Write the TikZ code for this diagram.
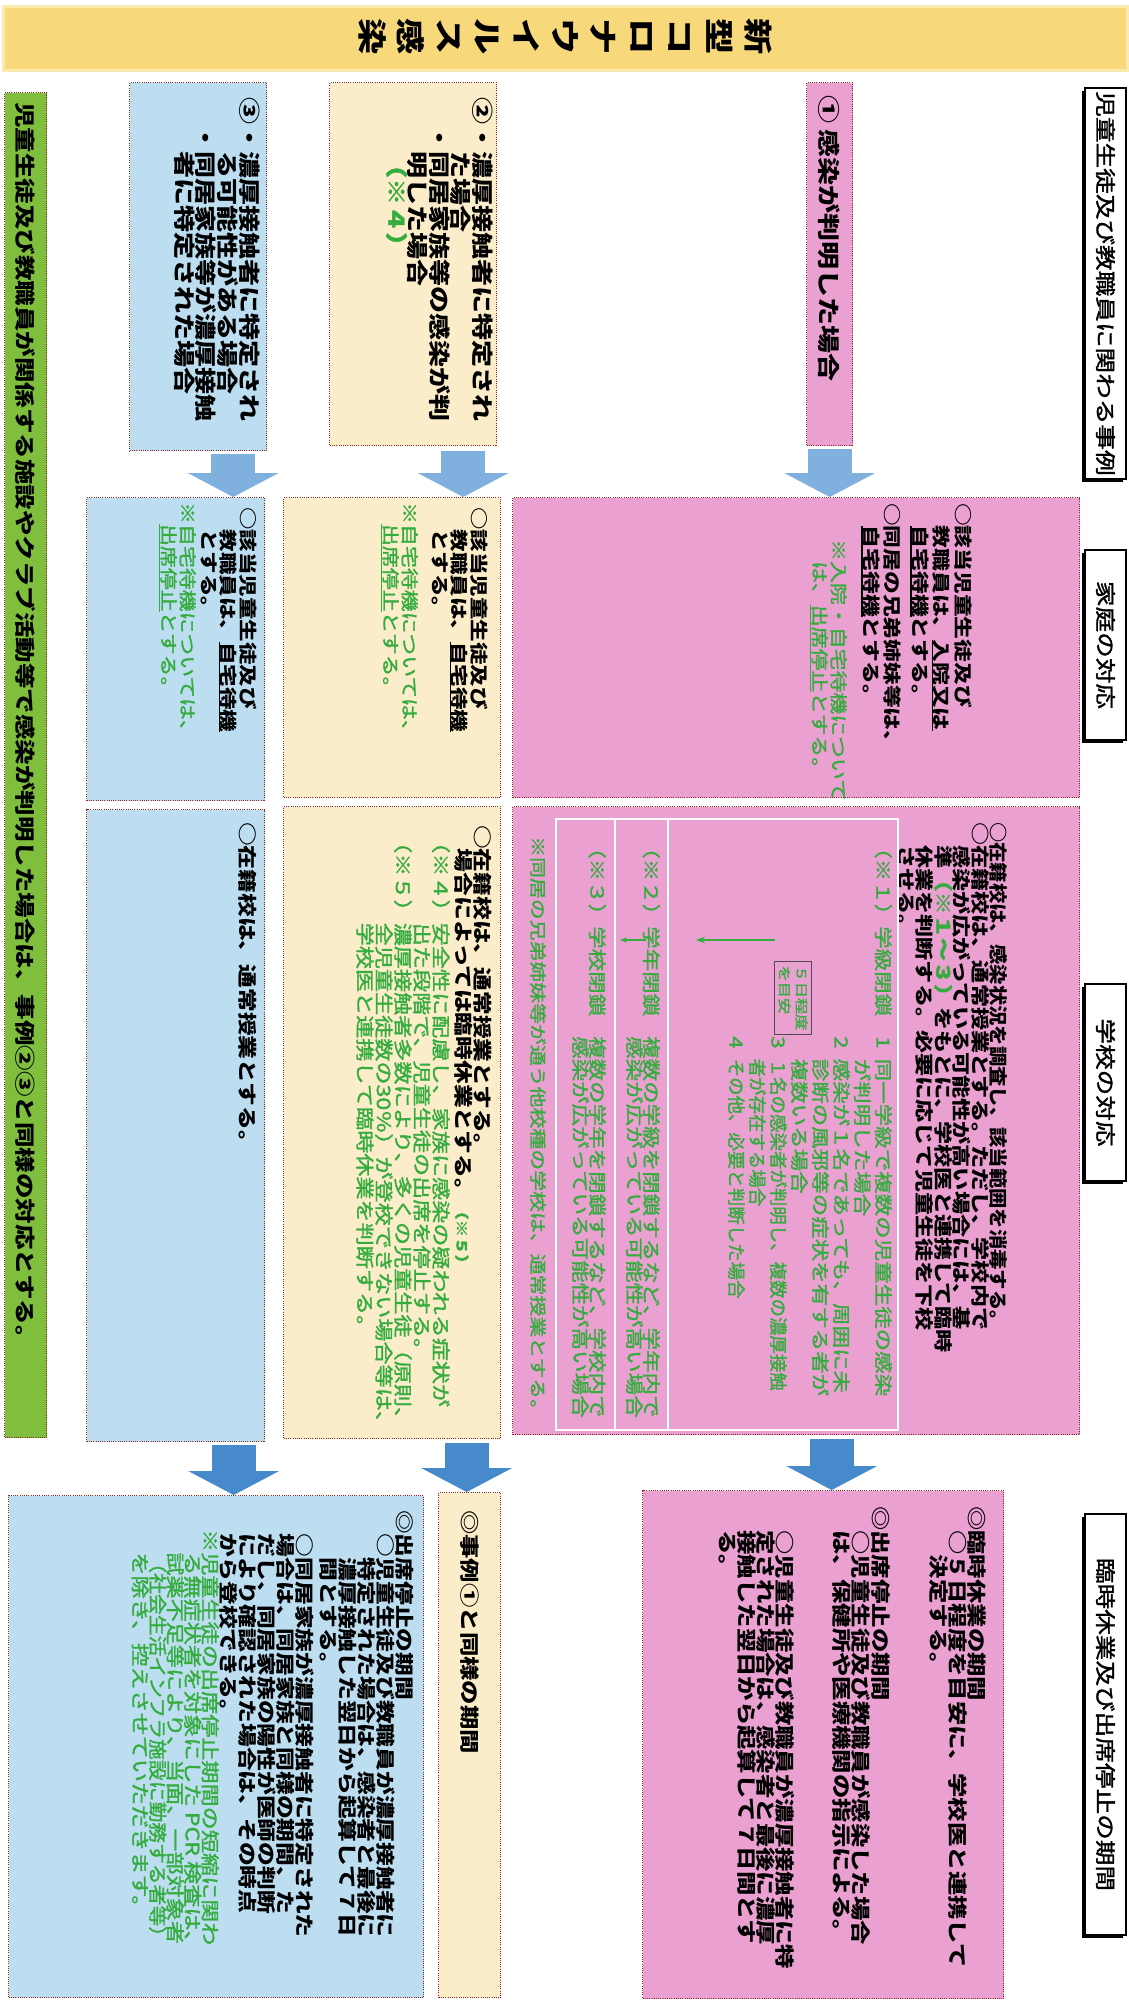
\documentclass[tikz,border=0pt]{standalone}
\usepackage{fontspec}
\setmainfont{Noto Sans CJK JP}[FakeStretch=1.25]
\newfontfamily\medfont{Noto Sans CJK JP}[FakeStretch=1.25, FakeBold=1.6]
\usepackage{graphicx}
\usetikzlibrary{arrows.meta,shadows,positioning}

\definecolor{pinkfill}{RGB}{234,160,208}
\definecolor{creamfill}{RGB}{251,236,202}
\definecolor{bluefill}{RGB}{188,222,240}
\definecolor{barfill}{RGB}{128,190,62}
\definecolor{gtext}{RGB}{52,172,62}
\definecolor{titlefill}{RGB}{247,216,122}
\definecolor{titleline}{RGB}{250,234,175}
\definecolor{boxline}{RGB}{140,40,30}
\definecolor{arrowlight}{RGB}{128,176,222}
\definecolor{arrowdark}{RGB}{70,138,204}

\newcommand{\fsz}[2]{\fontsize{#1}{#2}\selectfont}
\newcommand{\udl}[1]{\setbox0=\hbox{#1}\rlap{\rule[-3pt]{\wd0}{1.4pt}}\box0}
\newcommand{\numitem}[1]{\makebox[1.25em][l]{#1}}

\tikzset{
  dotbox/.style={rectangle, draw=boxline, line width=1.4pt, dash pattern=on 1pt off 1.2pt, inner sep=0pt, anchor=north west},
  pinkbox/.style={dotbox, fill=pinkfill},
  creambox/.style={dotbox, fill=creamfill},
  bluebox/.style={dotbox, fill=bluefill},
  hdrbox/.style={rectangle, draw=black, line width=2pt, fill=white, inner sep=0pt, anchor=north west, minimum width=41pt,
    drop shadow={shadow xshift=-3pt, shadow yshift=-3pt, fill=black, opacity=1}},
  hdrtxt/.style={rotate=-90, inner sep=0pt, font=\medfont\fsz{20.5}{20}},
  txt/.style={rotate=-90, anchor=north west, align=left, inner sep=0pt, font=\bfseries\fsz{19}{19}},
  gtxt/.style={txt, text=gtext, font=\medfont\fsz{18}{19}},
  flowarrow/.style={draw=arrowlight, line width=44pt, -{Triangle[width=90pt,length=24pt]}},
  flowarrowdark/.style={flowarrow, draw=arrowdark},
  notebox/.style={rectangle, rotate=-90, draw=black!70, line width=0.8pt, fill=pinkfill, text=gtext, align=left, inner sep=4pt, font=\medfont\fsz{13}{17}}
}

\begin{document}
\begin{tikzpicture}[x=1pt, y=-1pt]
\useasboundingbox (0,0) rectangle (1128,2000);

\node [rectangle, fill=titlefill, draw=titleline, line width=3pt, minimum width=1124pt, minimum height=64pt, anchor=north west] (band) at (2,5) {};
\node [rotate=-90, align=center, inner sep=0pt, font=\bfseries\fsz{29}{38.6}] (title) at (565,37) {新\\型\\コ\\ロ\\ナ\\ウ\\イ\\ル\\ス\\感\\染};

\node [hdrbox, minimum height=391pt] (hdr1) at (1084,87) {};
\node [hdrtxt] (hdr1t) at (hdr1.center) {児童生徒及び教職員に関わる事例};
\node [hdrbox, minimum height=190pt] (hdr2) at (1084,549) {};
\node [hdrtxt] (hdr2t) at (hdr2.center) {家庭の対応};
\node [hdrbox, minimum height=197pt] (hdr3) at (1084,983) {};
\node [hdrtxt] (hdr3t) at (hdr3.center) {学校の対応};
\node [hdrbox, minimum height=421pt] (hdr4) at (1084,1513) {};
\node [hdrtxt] (hdr4t) at (hdr4.center) {臨時休業及び出席停止の期間};

\node [dotbox, fill=barfill, minimum width=42pt, minimum height=1345pt] (bar) at (4,92) {};
\node [rotate=-90, anchor=west, inner sep=0pt, font=\bfseries\fsz{20.4}{20}] (bart) at (25,102) {児童生徒及び教職員が関係する施設やクラブ活動等で感染が判明した場合は、事例②③と同様の対応とする。};

% case 1
\node [pinkbox, minimum width=46pt, minimum height=363pt] (case1) at (806,82) {};
\node [rotate=-90, anchor=west, inner sep=0pt, font=\bfseries\fsz{22.4}{22}] (case1t) at (829,95) {①\hspace{6pt}感染が判明した場合};
\node [pinkbox, minimum width=567pt, minimum height=300pt] (home1) at (512,497) {};
\node [txt, font=\bfseries\fsz{18.2}{21.5}] (home1t) at (972,503) {○該当児童生徒及び\\　教職員は、\udl{入院又は}\\　\udl{自宅待機}とする。\\[6pt]○同居の兄弟姉妹等は、\\　\udl{自宅待機}とする。};
\node [gtxt, font=\medfont\fsz{17.5}{19}] (home1n) at (847,539) {※入院・自宅待機について\\　は、\udl{出席停止}とする。};
\node [pinkbox, minimum width=567pt, minimum height=628pt] (school1) at (512,806) {};
\node [txt, font=\bfseries\fsz{18.5}{18.5}] (school1t) at (1008,822) {\scalebox{0.88}[1]{○在籍校は、感染状況を調査し、該当範囲を消毒する。}\\○在籍校は、通常授業とする。ただし、学校内で\\　感染が広がっている可能性が高い場合には、基\\　準\textcolor{gtext}{\medfont（※１～３）}をもとに、学校医と連携して臨時\\　休業を判断する。必要に応じて児童生徒を下校\\　させる。};
\draw [white, line width=1.5pt] (556,819) rectangle (898,1430);
\draw [white, line width=1.5pt] (668,819) -- (668,1430);
\draw [white, line width=1.5pt] (615,819) -- (615,1430);
\node [gtxt] (lv1) at (892,836) {（※１）学級閉鎖};
\node [gtxt, font=\medfont\fsz{18}{21}] (lv1t) at (892,1036) {\numitem{1}同一学級で複数の児童生徒の感染\\\numitem{}が判明した場合\\\numitem{2}感染が１名であっても、周囲に未\\\numitem{}診断の風邪等の症状を有する者が\\\numitem{}複数いる場合\\\numitem{3}\scalebox{0.82}[1]{１名の感染者が判明し、複数の濃厚接触}\\\numitem{}\scalebox{0.82}[1]{者が存在する場合}\\\numitem{4}\scalebox{0.82}[1]{その他、必要と判断した場合}};
\node [notebox] (note5) at (793,998) {５日程度\\を目安};
\draw [gtext, line width=1.5pt, -{Stealth[length=9pt]}] (775,940) -- (696,940);
\draw [gtext, line width=1.2pt, -{Stealth[length=7pt]}] (646,940) -- (620,940);
\node [gtxt, font=\medfont\fsz{18}{17}] (lv2) at (660,836) {（※２）学年閉鎖};
\node [gtxt, font=\medfont\fsz{18}{17}] (lv2t) at (660,1036) {複数の学級を閉鎖するなど、学年内で\\感染が広がっている可能性が高い場合};
\node [gtxt, font=\medfont\fsz{18}{17}] (lv3) at (606,836) {（※３）学校閉鎖};
\node [gtxt, font=\medfont\fsz{18}{17}] (lv3t) at (606,1036) {複数の学年を閉鎖するなど、学校内で\\感染が広がっている可能性が高い場合};
\node [gtxt, font=\medfont\fsz{16.7}{17}] (school1n) at (546,836) {※同居の兄弟姉妹等が通う他校種の学校は、通常授業とする。};
\node [pinkbox, minimum width=361pt, minimum height=508pt] (period1) at (642,1490) {};
\node [txt, font=\bfseries\fsz{19.5}{19}] (period1t) at (986,1506) {◎臨時休業の期間\\　○５日程度を目安に、学校医と連携して\\　　決定する。\\[39pt]◎出席停止の期間\\　○児童生徒及び教職員が感染した場合\\　は、保健所や医療機関の指示による。\\[38pt]　○児童生徒及び教職員が濃厚接触者に特\\　定された場合は、感染者と最後に濃厚\\　接触した翌日から起算して７日間とす\\　る。};

% case 2
\node [creambox, minimum width=167pt, minimum height=363pt] (case2) at (329,82) {};
\node [txt, font=\bfseries\fsz{21.6}{21.5}] (case2t) at (493,97) {②・濃厚接触者に特定され\\　　た場合\\　・同居家族等の感染が判\\　　明した場合\\\textcolor{gtext}{\medfont　　（※４）}};
\node [creambox, minimum width=217pt, minimum height=300pt] (home2) at (283,497) {};
\node [txt, font=\bfseries\fsz{18}{19.5}] (home2t) at (488,507) {○該当児童生徒及び\\　教職員は、\udl{自宅待機}\\　とする。};
\node [gtxt, font=\medfont\fsz{17.5}{19}] (home2n) at (418,502) {※自宅待機については、\\　\udl{出席停止}とする。};
\node [creambox, minimum width=217pt, minimum height=632pt] (school2) at (283,806) {};
\node [txt] (school2t) at (492,825) {○在籍校は、通常授業とする。\\　場合によっては臨時休業とする。\textcolor{gtext}{\medfont\fsz{14}{14}（※５）}};
\node [gtxt, font=\medfont\fsz{18.5}{19}] (school2n) at (450,830) {（※４）安全性に配慮し、家族に感染の疑われる症状が\\\phantom{（※４）}出た段階で、児童生徒の出席を停止する。\\（※５）濃厚接触者多数により、多くの児童生徒（原則、\\\phantom{（※５）}全児童生徒数の30％）が登校できない場合等は、\\\phantom{（※５）}学校医と連携して臨時休業を判断する。};
\node [creambox, minimum width=62pt, minimum height=505pt] (period2) at (438,1492) {};
\node [txt, font=\bfseries\fsz{19.5}{19}] (period2t) at (479,1510) {◎事例①と同様の期間};

% case 3
\node [bluebox, minimum width=137pt, minimum height=368pt] (case3) at (129,82) {};
\node [txt, font=\bfseries\fsz{21.6}{21}] (case3t) at (260,97) {③・濃厚接触者に特定され\\　　る可能性がある場合\\　・同居家族等が濃厚接触\\　　者に特定された場合};
\node [bluebox, minimum width=178pt, minimum height=303pt] (home3) at (86,497) {};
\node [txt, font=\bfseries\fsz{18}{19.5}] (home3t) at (257,507) {○該当児童生徒及び\\　教職員は、\udl{自宅待機}\\　とする。};
\node [gtxt, font=\medfont\fsz{17.5}{19}] (home3n) at (196,502) {※自宅待機については、\\　\udl{出席停止}とする。};
\node [bluebox, minimum width=178pt, minimum height=632pt] (school3) at (86,809) {};
\node [txt] (school3t) at (257,822) {○在籍校は、通常授業とする。};
\node [bluebox, minimum width=415pt, minimum height=502pt] (period3) at (8,1495) {};
\node [txt, font=\bfseries\fsz{19}{19}] (period3t) at (414,1510) {◎出席停止の期間\\　○児童生徒及び教職員が濃厚接触者に\\　　特定された場合は、感染者と最後に\\　　濃厚接触した翌日から起算して７日\\　　間とする。\\[5pt]　○同居家族が濃厚接触者に特定された\\　場合は、同居家族と同様の期間、た\\　だし、同居家族の陽性が医師の判断\\　により確認された場合は、その時点\\　から登校できる。};
\node [gtxt, font=\medfont\fsz{18.5}{17.5}] (period3n) at (219,1529) {※児童生徒の出席停止期間の短縮に関わ\\　る無症状者を対象にした PCR 検査は、\\　試薬不足等により、当面、一部対象者\\　\scalebox{0.9}[1]{（社会生活インフラ施設に勤務する者等）}\\　を除き、控えさせていただきます。};

% arrows
\draw [flowarrow] ([yshift=-3pt]case1.south) -- (case1.south |- home1.north);
\draw [flowarrow] ([xshift=50pt,yshift=-5pt]case2.south) -- ([xshift=50pt]case2.south |- home2.north);
\draw [flowarrow] ([xshift=35pt,yshift=-3pt]case3.south) -- ([xshift=35pt]case3.south |- home3.north);
\draw [flowarrowdark] ([xshift=35.5pt,yshift=-4pt]school1.south) -- ([xshift=35.5pt]school1.south |- period1.north);
\draw [flowarrowdark] ([xshift=74.5pt,yshift=-4pt]school2.south) -- ([xshift=74.5pt]school2.south |- period2.north);
\draw [flowarrowdark] ([xshift=58pt,yshift=-3pt]school3.south) -- ([xshift=58pt]school3.south |- period3.north);
\end{tikzpicture}
\end{document}
